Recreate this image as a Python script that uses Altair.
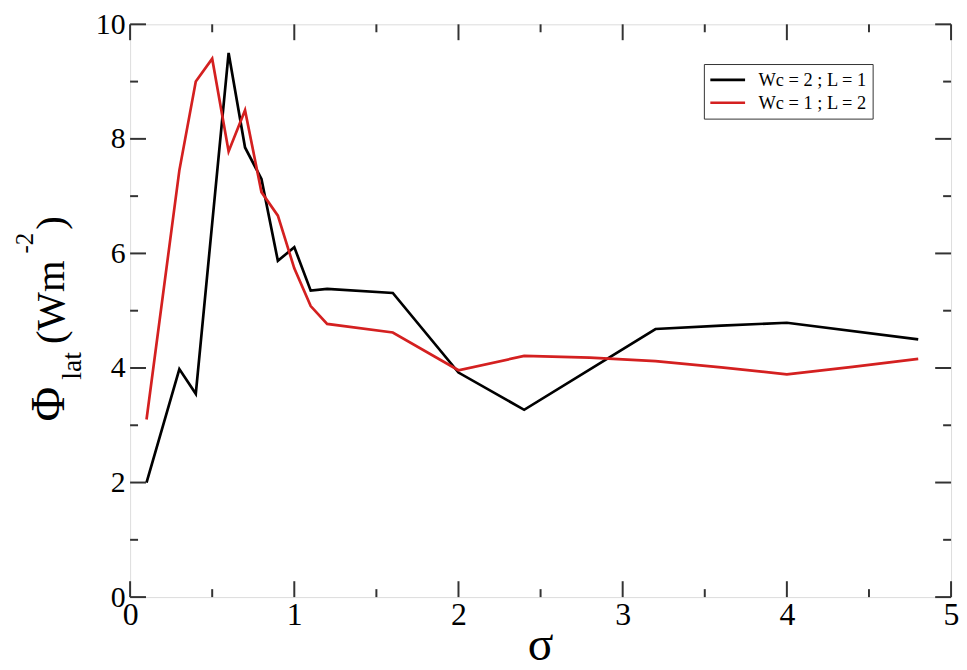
import altair as alt
import pandas as pd

# ---- data ----
black_x = [0.1, 0.3, 0.4, 0.6, 0.7, 0.8, 0.9, 1.0, 1.1, 1.2, 1.6, 2.0, 2.4, 3.2, 3.6, 4.0, 4.8]
black_y = [2.0, 3.98, 3.55, 9.5, 7.85, 7.3, 5.87, 6.11, 5.35, 5.38, 5.31, 3.92, 3.27, 4.68, 4.74, 4.79, 4.5]
red_x = [0.1, 0.3, 0.4, 0.5, 0.6, 0.7, 0.8, 0.9, 1.0, 1.1, 1.2, 1.6, 2.0, 2.4, 2.8, 3.2, 3.6, 4.0, 4.4, 4.8]
red_y = [3.1, 7.45, 9.0, 9.4, 7.78, 8.5, 7.07, 6.66, 5.74, 5.08, 4.77, 4.62, 3.96, 4.21, 4.18, 4.12, 4.01, 3.89, 4.02, 4.16]
series_names = ["Wc = 2 ; L = 1", "Wc = 1 ; L = 2"]
series_colors = ["#000000", "#d42020"]

x_major = [0, 1, 2, 3, 4, 5]
x_minor = [0.5, 1.5, 2.5, 3.5, 4.5]
y_major = [0, 2, 4, 6, 8, 10]
y_minor = [1, 3, 5, 7, 9]
x_title = "σ"

W, H = 827, 577
FONT = "Liberation Serif"
AX = "#333333"

df = pd.concat([
    pd.DataFrame({"x": black_x, "y": black_y, "s": series_names[0], "o": range(len(black_x))}),
    pd.DataFrame({"x": red_x, "y": red_y, "s": series_names[1], "o": range(len(red_x))}),
])

xs = alt.Scale(domain=[0, 5], nice=False, zero=False)
ys = alt.Scale(domain=[0, 10], nice=False, zero=False)

lines = alt.Chart(df).mark_line(strokeWidth=2.7).encode(
    x=alt.X("x:Q", scale=xs, axis=alt.Axis(values=x_major, format="d", title=None,
                                          labelFont=FONT, labelFontSize=32, labelFlush=False,
                                          labelColor="black", labelPadding=3, domain=False, ticks=False,
                                          grid=False)),
    y=alt.Y("y:Q", scale=ys, axis=alt.Axis(values=y_major, format="d", title=None,
                                          labelFont=FONT, labelFontSize=30, labelColor="black",
                                          labelFlush=False,
                                          labelPadding=5, domain=False, ticks=False, grid=False)),
    color=alt.Color("s:N", scale=alt.Scale(domain=series_names, range=series_colors),
                    legend=alt.Legend(title=None, orient="none", legendX=578, legendY=40,
                                      symbolType="stroke", symbolStrokeWidth=2.7, symbolSize=1225,
                                      clipHeight=22,
                                      labelFont=FONT, labelFontSize=18.5, labelColor="black",
                                      strokeColor="#333", padding=5, rowPadding=1, labelOffset=12,
                                      fillColor="white")),
    order="o:Q",
)

def hticks(vals, length, side):
    d = pd.DataFrame({"v": vals})
    if side == "left":
        xv, x2v = 0, length
    else:
        xv, x2v = W - length, W
    return alt.Chart(d).mark_rule(color=AX, strokeWidth=2).encode(
        y=alt.Y("v:Q", scale=ys), x=alt.value(xv), x2=alt.value(x2v))

def vticks(vals, length, side):
    d = pd.DataFrame({"v": vals})
    if side == "bottom":
        yv, y2v = H - length, H
    else:
        yv, y2v = 0, length
    return alt.Chart(d).mark_rule(color=AX, strokeWidth=2).encode(
        x=alt.X("v:Q", scale=xs), y=alt.value(yv), y2=alt.value(y2v))

ticks = [
    hticks(y_major, 16, "left"), hticks(y_major, 16, "right"),
    hticks(y_minor, 8, "left"), hticks(y_minor, 8, "right"),
    vticks(x_major, 16, "bottom"), vticks(x_major, 16, "top"),
    vticks(x_minor, 8, "bottom"), vticks(x_minor, 8, "top"),
]

# x-axis title
xtitle = alt.Chart(pd.DataFrame({"t": [x_title]})).mark_text(
    font=FONT, fontSize=48, align="center", baseline="alphabetic", color="black"
).encode(text="t:N", x=alt.value(W / 2), y=alt.value(H + 63))

# y-axis title pieces: Φ_lat (Wm^-2)
title_pieces = [
    ("Φ", -67, 400, 48),
    ("lat", -49, 358, 28),
    ("(Wm", -67, 322, 41),
    ("-2", -98, 231, 25),
    (")", -67, 207, 41),
]
ytitle = [
    alt.Chart(pd.DataFrame({"t": [t]})).mark_text(
        font=FONT, fontSize=fs, angle=270, align="left", baseline="alphabetic", color="black"
    ).encode(text="t:N", x=alt.value(xp), y=alt.value(yp))
    for t, xp, yp, fs in title_pieces
]

chart = alt.layer(lines, *ticks, xtitle, *ytitle).properties(
    width=W, height=H,
    autosize=alt.AutoSizeParams(type="none"),
    padding={"left": 123, "top": 14, "right": 8, "bottom": 70},
).configure_view(stroke=AX, strokeWidth=2).configure(background="white")

chart.save("out.html", embed_options={"renderer": "svg", "actions": False})
